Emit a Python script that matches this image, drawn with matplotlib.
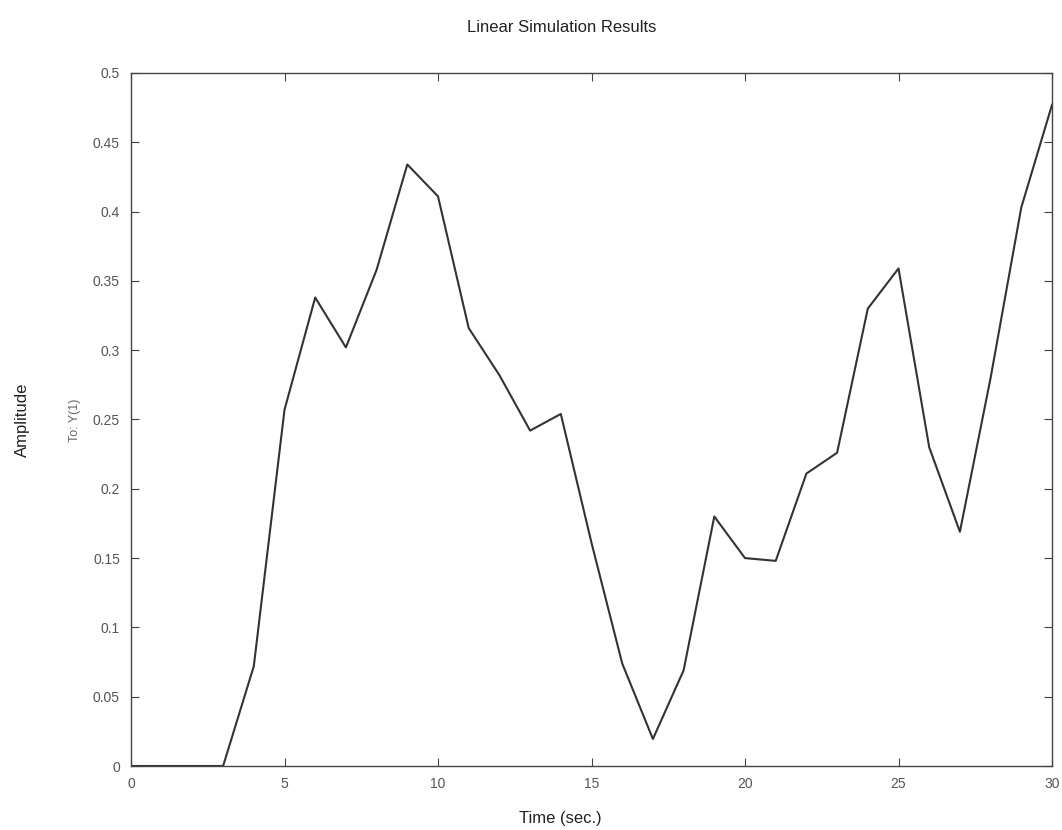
import matplotlib
matplotlib.use("Agg")
import matplotlib.pyplot as plt

# Data
time = list(range(0, 31))
amplitude = [0, 0, 0, 0, 0.072, 0.257, 0.338, 0.302, 0.358, 0.434,
             0.411, 0.316, 0.282, 0.242, 0.254, 0.161, 0.074, 0.0195, 0.069, 0.180,
             0.150, 0.148, 0.211, 0.226, 0.330, 0.359, 0.230, 0.169, 0.280, 0.403,
             0.477]
xticks = [0, 5, 10, 15, 20, 25, 30]
yticks = [0, 0.05, 0.1, 0.15, 0.2, 0.25, 0.3, 0.35, 0.4, 0.45, 0.5]
ytick_labels = ["0", "0.05", "0.1", "0.15", "0.2", "0.25", "0.3", "0.35", "0.4", "0.45", "0.5"]

plt.rcParams['font.family'] = ['Liberation Sans', 'DejaVu Sans']

fig = plt.figure(figsize=(10.62, 8.30), dpi=100)
ax = fig.add_axes([131/1062, 1 - 766/830, (1052 - 131)/1062, (766 - 73)/830])

ax.plot(time, amplitude, color='#333333', linewidth=1.5)

ax.set_xlim(0, 30)
ax.set_ylim(0, 0.5)
ax.set_xticks(xticks)
ax.set_xticklabels([str(t) for t in xticks])
ax.set_yticks(yticks)
ax.set_yticklabels(ytick_labels)
ax.tick_params(direction='in', top=True, right=True, length=6, width=0.8,
               labelsize=10, labelcolor='#555555', color='#444444', pad=8)
for sp in ax.spines.values():
    sp.set_color('#444444')
    sp.set_linewidth(1.0)

fig.text(562/1062, 1 - 28/830, "Linear Simulation Results",
         ha='center', va='center', fontsize=12, color='#222222')
fig.text(560/1062, 1 - 818/830, "Time (sec.)",
         ha='center', va='center', fontsize=12, color='#222222')
fig.text(22/1062, 1 - 420/830, "Amplitude", rotation=90, ha='center', va='center',
         fontsize=12, color='#222222')
fig.text(75/1062, 1 - 420/830, "To: Y(1)", rotation=90, ha='center', va='center',
         fontsize=9, color='#666666')

fig.savefig("out.png", dpi=100)
